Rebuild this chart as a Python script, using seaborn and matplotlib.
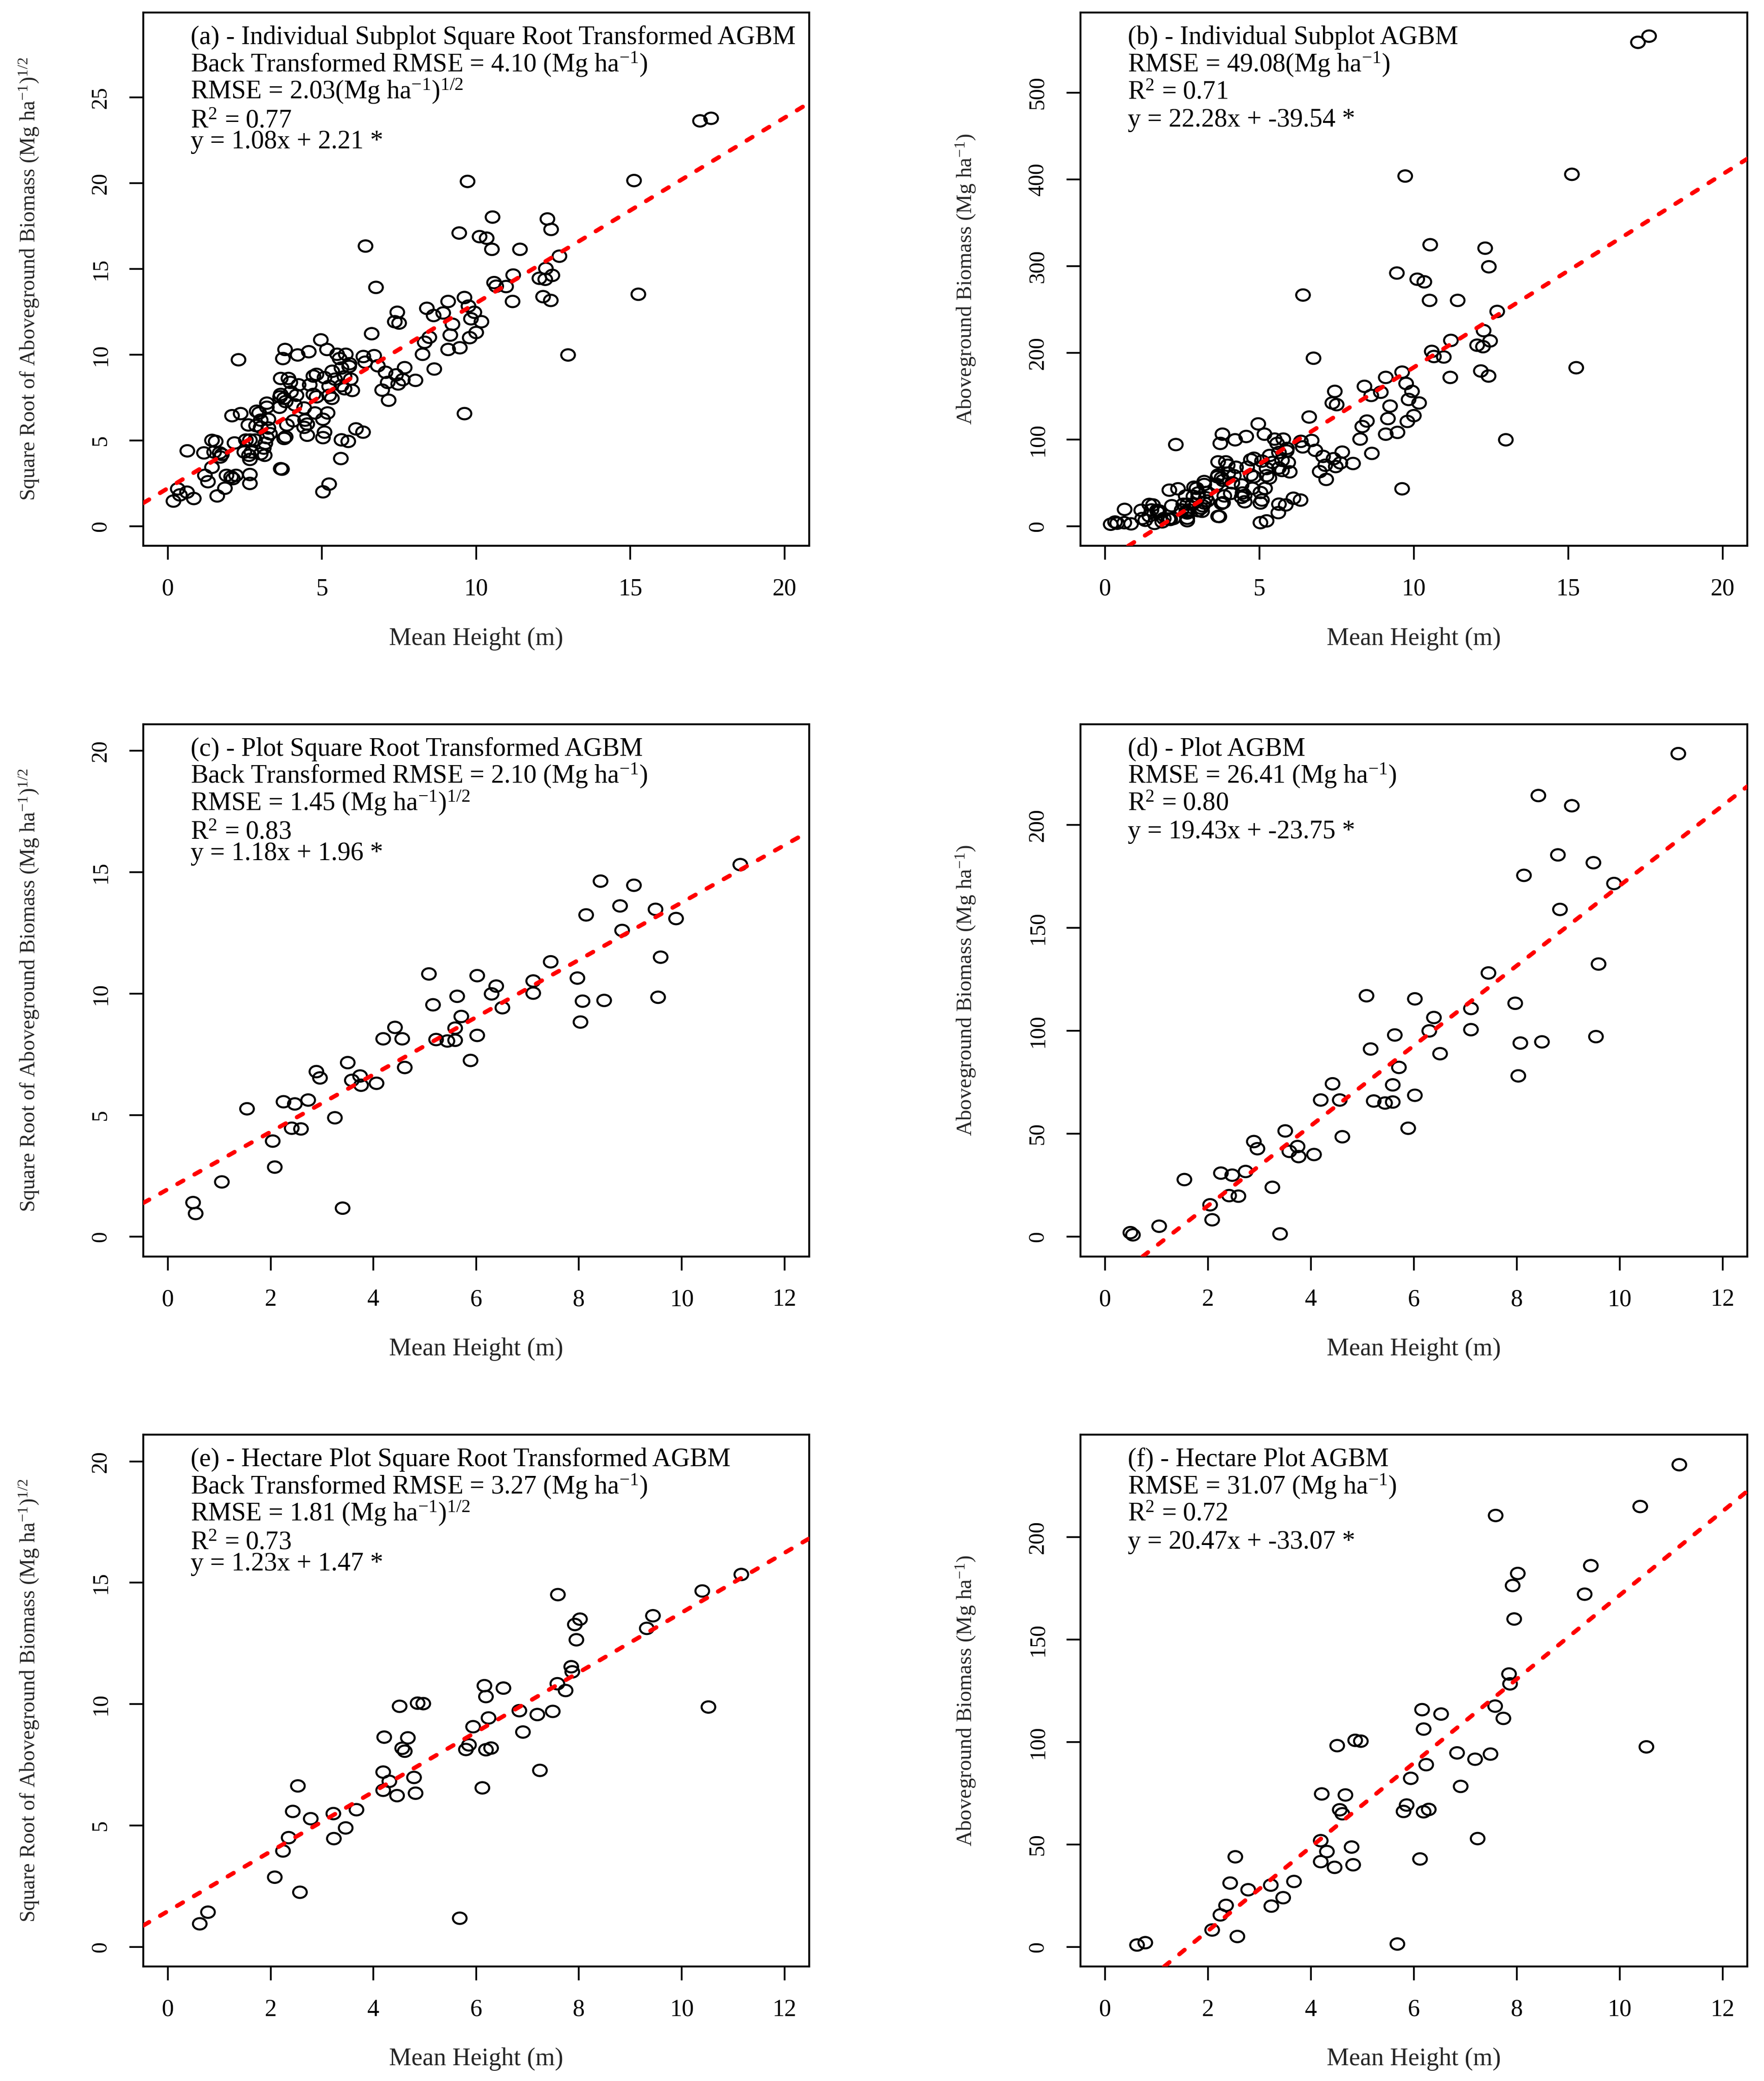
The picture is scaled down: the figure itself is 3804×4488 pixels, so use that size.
import numpy as np
import pandas as pd
import matplotlib
matplotlib.use("Agg")
import matplotlib.pyplot as plt
from matplotlib.path import Path
import seaborn as sns

# ---------------- data ----------------
# Individual subplots: mean height (m) and sqrt(AGBM)
sub_height = [17.26, 17.62, 9.72, 15.12, 10.53, 12.31, 12.43, 9.45, 10.11, 10.34, 10.51, 11.42, 6.41,
              12.70, 12.26, 11.20, 12.05, 12.24, 12.47, 10.58, 10.65, 10.97, 6.75, 12.17, 12.42, 11.18,
              15.26, 9.09, 9.62, 8.40, 8.93, 9.75, 9.94, 8.62, 7.44, 7.36, 7.50, 9.83, 10.17, 9.23, 6.61,
              8.48, 9.16, 10.00, 9.79, 8.33, 8.26, 9.09, 9.47, 12.98, 8.64, 9.62,
              4.96, 5.16, 4.57, 3.80, 3.73, 4.21, 2.29, 5.49, 5.77, 5.57, 5.89, 6.34, 6.69, 6.40, 6.81,
              7.06, 7.68, 7.40, 7.62, 8.03, 6.95, 7.16, 7.47, 7.13,
              5.63, 5.88, 5.73, 5.93, 5.42, 5.63, 5.73, 5.98, 5.32, 6.10, 6.33, 5.63, 5.85, 5.61,
              0.18, 0.32, 0.39, 0.62, 0.84, 0.63, 1.17, 1.43, 1.55, 1.50, 1.68, 1.70, 1.75, 1.43, 1.20,
              1.30, 1.60, 1.85, 1.90, 2.05, 2.21, 2.11, 2.66, 2.66, 2.16, 2.48, 2.53, 2.66, 2.63, 2.71,
              2.66, 2.83, 3.11, 3.16, 3.14, 3.01, 3.70, 3.66, 3.77, 3.82, 3.21, 3.31, 2.08, 2.36, 2.61,
              2.88, 2.96, 2.86, 3.01, 3.21, 3.21, 3.26, 3.26, 3.01, 3.62, 3.64, 3.66, 3.66, 3.91, 3.97,
              3.99, 3.77, 3.82, 4.17, 4.24, 4.12, 4.07, 3.86, 4.42, 4.45, 4.52, 4.42, 4.52, 4.60, 4.72,
              4.82, 4.72, 4.82, 4.77, 5.03, 5.18, 5.08, 5.03, 5.08, 5.23, 5.23, 5.33, 5.03, 5.23]
sub_sqrt_agbm = [23.63, 23.78, 20.10, 20.15, 18.02, 17.91, 17.30, 17.09, 16.88, 16.79, 16.14, 16.14, 16.33,
                 15.74, 15.02, 14.64, 14.45, 14.39, 14.62, 14.20, 13.99, 13.97, 13.92, 13.38, 13.16, 13.10,
                 13.52, 13.10, 13.33, 12.70, 12.43, 12.83, 12.47, 12.28, 12.47, 11.92, 11.84, 12.09, 11.92,
                 11.77, 11.22, 11.01, 11.14, 11.29, 10.99, 10.72, 10.02, 10.30, 10.40, 9.98, 9.16, 6.56,
                 10.86, 10.30, 10.17, 10.30, 9.77, 9.98, 9.70, 10.02, 10.02, 9.77, 9.47, 9.89, 9.94, 9.56,
                 9.35, 8.97, 9.24, 8.82, 8.54, 8.50, 7.93, 7.34, 8.29, 8.38,
                 9.22, 9.31, 8.71, 8.57, 8.57, 8.19, 8.01, 7.91, 7.45, 5.67, 5.48, 5.03, 4.94, 3.94,
                 1.46, 2.17, 1.82, 1.98, 1.61, 4.39, 4.27, 5.00, 4.94, 4.32, 4.27, 4.03, 4.18, 3.43, 2.96,
                 2.59, 1.76, 2.21, 2.96, 2.87, 2.96, 2.77, 3.01, 2.49, 4.85, 4.32, 5.02, 5.02, 4.13, 4.32,
                 3.89, 5.02, 4.55, 4.83, 4.13, 4.22, 3.32, 3.35, 5.11, 5.20, 5.16, 5.39, 6.44, 6.56, 5.90,
                 6.70, 6.60, 5.86, 6.18, 7.17, 6.93, 6.23, 5.72, 5.76, 6.93, 7.54, 7.68, 8.61, 8.61, 8.38,
                 7.82, 7.45, 7.26, 7.63, 8.24, 7.07, 6.14, 5.90, 6.89, 6.18, 5.95, 5.76, 5.30, 8.24, 8.75,
                 8.85, 7.68, 7.54, 6.60, 6.23, 6.60, 5.48, 5.16, 8.66, 8.15, 7.63, 9.03, 2.00, 2.45]
# The AGBM panel shows the same subplots untransformed (square of the sqrt values)
sub_agbm = [v ** 2 for v in sub_sqrt_agbm]

# Plots
plot_height = [11.14, 8.42, 9.07, 8.80, 9.49, 8.14, 9.89, 8.84, 9.59, 7.45, 7.97, 5.08, 6.02, 7.11, 6.39,
               6.30, 7.11, 5.63, 5.16, 8.07, 8.49, 9.54, 6.51, 5.71, 8.03, 5.59, 4.42, 4.19, 4.56, 5.22,
               5.44, 5.59, 6.02, 5.89, 3.50, 4.61, 2.89, 2.96, 3.74, 3.58, 3.76, 4.06, 2.25, 2.47, 2.73,
               1.54, 3.25, 2.41, 2.59, 2.04, 2.08, 1.05, 0.49, 0.54, 3.40]
plot_sqrt_agbm = [15.32, 14.64, 14.47, 13.62, 13.48, 13.25, 13.10, 12.61, 11.51, 11.32, 10.65, 10.82, 10.75,
                  10.53, 10.32, 10.00, 10.03, 9.90, 9.55, 9.70, 9.73, 9.86, 9.43, 9.07, 8.84, 8.59, 8.62,
                  8.15, 8.15, 8.12, 8.06, 8.09, 8.29, 7.26, 7.17, 6.97, 6.80, 6.54, 6.62, 6.44, 6.24, 6.32,
                  5.56, 5.47, 5.63, 5.27, 4.90, 4.47, 4.44, 3.94, 2.87, 2.26, 1.41, 0.96, 1.18]
plot_agbm = [v ** 2 for v in plot_sqrt_agbm]

# Hectare plots
ha_height = [11.16, 10.40, 7.59, 9.44, 9.32, 8.02, 7.92, 7.95, 7.85, 7.87, 7.58, 7.74, 6.16, 6.19, 6.53,
             4.86, 4.97, 4.51, 6.84, 7.19, 7.49, 6.24, 5.94, 6.91, 4.21, 4.67, 4.56, 4.61, 5.86, 5.80,
             6.19, 6.29, 10.52, 7.24, 4.19, 4.31, 4.79, 4.19, 4.46, 4.82, 6.12, 2.53, 2.43, 2.78, 3.22,
             3.67, 3.46, 3.23, 2.35, 2.24, 2.08, 2.57, 0.78, 0.62, 5.68]
ha_sqrt_agbm = [15.34, 14.66, 14.51, 13.64, 13.12, 13.50, 13.28, 12.65, 11.54, 11.33, 10.84, 10.56, 10.76,
                10.31, 10.66, 10.04, 10.02, 9.91, 9.73, 9.57, 9.70, 9.43, 9.07, 8.85, 8.64, 8.61, 8.18,
                8.06, 8.32, 8.13, 8.12, 8.19, 9.88, 7.27, 7.20, 6.82, 6.98, 6.45, 6.23, 6.33, 6.55, 6.63,
                5.58, 5.28, 5.49, 5.65, 4.90, 4.46, 4.50, 3.95, 2.87, 2.25, 1.43, 0.95, 1.18]
ha_agbm = [v ** 2 for v in ha_sqrt_agbm]

# Fitted regression lines (slope, intercept) as printed on each panel
fit_slopes = [1.08, 22.28, 1.18, 19.43, 1.23, 20.47]
fit_intercepts = [2.21, -39.54, 1.96, -23.75, 1.47, -33.07]

panel_texts = [
    ["(a) - Individual Subplot Square Root Transformed AGBM",
     "Back Transformed RMSE = 4.10 (Mg ha$^{-1}$)",
     "RMSE = 2.03(Mg ha$^{-1}$)$^{1/2}$",
     "R$^{2}$ = 0.77",
     "y = 1.08x + 2.21 *"],
    ["(b) - Individual Subplot AGBM",
     "RMSE = 49.08(Mg ha$^{-1}$)",
     "R$^{2}$ = 0.71",
     "y = 22.28x + -39.54 *"],
    ["(c) - Plot Square Root Transformed AGBM",
     "Back Transformed RMSE = 2.10 (Mg ha$^{-1}$)",
     "RMSE = 1.45 (Mg ha$^{-1}$)$^{1/2}$",
     "R$^{2}$ = 0.83",
     "y = 1.18x + 1.96 *"],
    ["(d) - Plot AGBM",
     "RMSE = 26.41 (Mg ha$^{-1}$)",
     "R$^{2}$ = 0.80",
     "y = 19.43x + -23.75 *"],
    ["(e) - Hectare Plot Square Root Transformed AGBM",
     "Back Transformed RMSE = 3.27 (Mg ha$^{-1}$)",
     "RMSE = 1.81 (Mg ha$^{-1}$)$^{1/2}$",
     "R$^{2}$ = 0.73",
     "y = 1.23x + 1.47 *"],
    ["(f) - Hectare Plot AGBM",
     "RMSE = 31.07 (Mg ha$^{-1}$)",
     "R$^{2}$ = 0.72",
     "y = 20.47x + -33.07 *"],
]

x_label = "Mean Height (m)"
y_label_sqrt = "Square Root of Aboveground Biomass (Mg ha$^{-1}$)$^{1/2}$"
y_label_raw = "Aboveground Biomass (Mg ha$^{-1}$)"

# ---------------- style ----------------
sns.set_theme(style="white")
plt.rcParams["font.family"] = ["Liberation Serif", "DejaVu Serif"]
plt.rcParams["mathtext.fontset"] = "custom"
plt.rcParams["mathtext.rm"] = "Liberation Serif"
plt.rcParams["mathtext.it"] = "Liberation Serif:italic"
plt.rcParams["mathtext.bf"] = "Liberation Serif:bold"

# open marker slightly wider than tall, as in the reference raster
_circ = Path.unit_circle()
open_marker = Path(_circ.vertices * np.array([1.2, 1.0]), _circ.codes)

fig = plt.figure(figsize=(3804 / 300, 4488 / 300), dpi=300)

col_left = [0.0812, 0.6125]
col_w = [0.3775, 0.378]
row_bottom = [0.7377, 0.3962, 0.0550]
row_h = [0.2563, 0.2558, 0.2556]

datasets = [
    (sub_height, sub_sqrt_agbm), (sub_height, sub_agbm),
    (plot_height, plot_sqrt_agbm), (plot_height, plot_agbm),
    (ha_height, ha_sqrt_agbm), (ha_height, ha_agbm),
]
xlims = [(-0.8, 20.8)] * 2 + [(-0.48, 12.48)] * 4
xticks = [np.arange(0, 21, 5)] * 2 + [np.arange(0, 13, 2)] * 4
ylims = [(-1.15, 29.95), (-22.8, 592.8), (-0.81, 21.1), (-9.6, 249), (-0.81, 21.1), (-9.6, 250)]
yticks = [np.arange(0, 26, 5), np.arange(0, 501, 100), np.arange(0, 21, 5), np.arange(0, 201, 50),
          np.arange(0, 21, 5), np.arange(0, 201, 50)]

text_y = [0.941, 0.889, 0.838, 0.784, 0.745]
text_y4 = [0.941, 0.889, 0.838, 0.786]

for i, (xs, ys) in enumerate(datasets):
    r, c = divmod(i, 2)
    ax = fig.add_axes([col_left[c], row_bottom[r], col_w[c], row_h[r]])
    df = pd.DataFrame({"height": xs, "agbm": ys})
    sns.scatterplot(data=df, x="height", y="agbm", ax=ax, marker=open_marker, s=50,
                    facecolors="none", edgecolor="black", linewidth=1.05, zorder=2)
    ax.axline((0, fit_intercepts[i]), slope=fit_slopes[i], color="#ff0000", lw=2.2,
              ls=(0, (1.6, 3.0)), dash_capstyle="round", zorder=3)
    ax.set_xlim(*xlims[i])
    ax.set_ylim(*ylims[i])
    ax.set_xticks(xticks[i])
    ax.set_yticks(yticks[i])
    ax.set_xticklabels([str(int(v)) for v in xticks[i]], fontsize=12.5)
    ax.set_yticklabels([str(int(v)) for v in yticks[i]], rotation=90, va="center", fontsize=11.5)
    ax.tick_params(axis="both", direction="out", length=7.2, width=0.9,
                   color="black", labelcolor="black", bottom=True, left=True)
    ax.tick_params(axis="x", pad=9.5)
    ax.tick_params(axis="y", pad=9.5)
    for sp in ax.spines.values():
        sp.set_visible(True)
        sp.set_color("black")
        sp.set_linewidth(1.0)
    ax.set_xlabel(x_label, fontsize=13)
    if c == 0:
        ax.set_ylabel(y_label_sqrt, fontsize=11.1)
    else:
        ax.set_ylabel(y_label_raw, fontsize=11.2)
    ax.xaxis.set_label_coords(0.5, -0.152)
    ax.yaxis.set_label_coords(-0.154, 0.5)
    lines = panel_texts[i]
    ys_txt = text_y if len(lines) == 5 else text_y4
    for line, ty in zip(lines, ys_txt):
        ax.text(0.071, ty, line, transform=ax.transAxes, fontsize=13.5,
                ha="left", va="baseline", color="black")

fig.savefig("out.png", dpi=300, facecolor="white")
